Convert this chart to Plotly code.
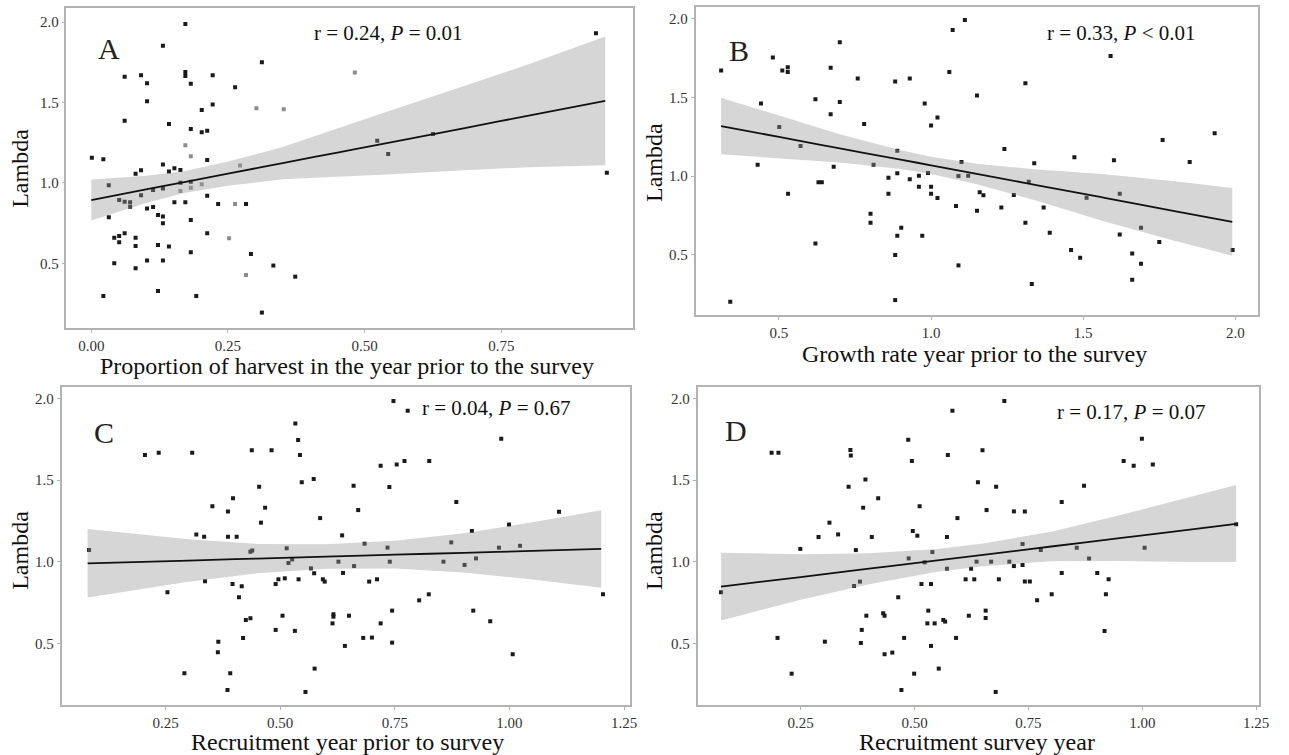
import plotly.graph_objects as go

W, H = 1289, 755
FONT = "Liberation Serif, Times New Roman, serif"

# ---------------- Panel A data ----------------
a_x = [0.172,0.131,0.312,0.061,0.091,0.172,0.172,0.222,0.102,0.182,0.263,0.102,0.222,0.202,
       0.061,0.142,0.182,0.202,0.212,0.001,0.022,0.212,0.131,0.081,0.091,0.142,0.152,0.163,
       0.163,0.182,0.032,0.113,0.131,0.091,0.212,0.051,0.061,0.071,0.071,0.152,0.172,0.232,
       0.283,0.102,0.113,0.032,0.122,0.131,0.131,0.182,0.042,0.051,0.061,0.051,0.081,0.081,
       0.122,0.142,0.212,0.182,0.292,0.042,0.102,0.131,0.081,0.333,0.373,0.022,0.122,0.192,
       0.312,0.923,0.523,0.543,0.625,0.943]
a_y = [1.988,1.853,1.750,1.660,1.669,1.690,1.665,1.669,1.620,1.617,1.594,1.507,1.487,1.453,
       1.387,1.366,1.335,1.315,1.325,1.157,1.147,1.143,1.114,1.058,1.079,1.072,1.091,1.081,
       1.002,1.008,0.986,0.957,0.965,0.923,0.921,0.894,0.884,0.880,0.853,0.880,0.880,0.870,
       0.870,0.841,0.851,0.787,0.801,0.791,0.749,0.770,0.660,0.671,0.687,0.631,0.660,0.609,
       0.615,0.605,0.687,0.569,0.559,0.501,0.518,0.518,0.470,0.487,0.418,0.298,0.329,0.298,
       0.195,1.930,1.263,1.180,1.304,1.064]
a_grey_x = [0.482,0.302,0.352,0.172,0.182,0.272,0.163,0.182,0.202,0.263,0.252,0.283]
a_grey_y = [1.687,1.464,1.458,1.234,1.166,1.108,0.950,0.971,0.992,0.870,0.656,0.429]
a_fit_x = [0.0,0.1,0.17,0.25,0.35,0.45,0.55,0.69,0.8,0.94]
a_fit_y = [0.894,0.960,1.005,1.058,1.123,1.189,1.254,1.346,1.418,1.510]
a_ci_lo = [0.767,0.875,0.937,0.983,1.023,1.039,1.054,1.081,1.098,1.110]
a_ci_hi = [1.021,1.045,1.073,1.133,1.223,1.339,1.454,1.611,1.738,1.910]

# ---------------- Panel B data ----------------
b_x = [1.111,1.071,0.700,0.480,0.310,0.511,0.529,0.529,0.670,1.060,0.759,0.882,0.930,1.151,
       0.441,0.620,0.700,0.979,0.670,1.021,1.000,0.501,0.780,0.571,0.889,0.430,0.680,0.811,
       1.100,0.889,0.860,0.930,0.960,0.990,1.090,1.122,0.630,0.641,0.860,0.960,1.000,1.000,
       1.021,1.160,1.172,0.530,1.082,1.151,0.801,0.801,0.902,0.889,0.971,0.620,0.882,1.090,
       0.882,0.340,
       1.590,1.310,1.241,1.339,1.471,1.601,1.761,1.850,1.932,1.321,1.272,1.231,1.370,1.511,
       1.620,1.310,1.390,1.620,1.690,1.750,1.460,1.490,1.661,1.690,1.661,1.331,1.991]
b_y = [1.994,1.930,1.851,1.754,1.671,1.671,1.692,1.662,1.690,1.662,1.620,1.601,1.620,1.512,
       1.461,1.488,1.471,1.461,1.393,1.372,1.321,1.312,1.331,1.191,1.161,1.072,1.059,1.072,
       1.089,1.017,0.989,0.979,1.002,1.019,1.000,1.002,0.960,0.960,0.887,0.932,0.932,0.887,
       0.860,0.896,0.877,0.887,0.809,0.779,0.760,0.703,0.671,0.620,0.620,0.571,0.497,0.431,
       0.210,0.200,
       1.764,1.590,1.172,1.081,1.119,1.100,1.229,1.089,1.272,0.964,0.879,0.800,0.800,0.862,
       0.887,0.703,0.639,0.628,0.671,0.580,0.529,0.480,0.507,0.442,0.340,0.312,0.529]
b_fit_x = [0.31,0.5,0.7,0.9,1.0,1.15,1.35,1.57,1.8,1.99]
b_fit_y = [1.318,1.249,1.176,1.104,1.068,1.013,0.941,0.861,0.777,0.708]
b_ci_lo = [1.138,1.114,1.086,1.044,1.013,0.948,0.841,0.711,0.587,0.493]
b_ci_hi = [1.498,1.384,1.266,1.164,1.123,1.078,1.041,1.011,0.967,0.923]

# ---------------- Panel C data ----------------
c_x = [0.083,0.205,0.235,0.308,0.438,0.481,0.533,0.539,0.543,0.547,0.573,0.660,0.454,0.670,
       0.397,0.467,0.352,0.386,0.458,0.587,0.317,0.334,0.386,0.405,0.635,0.684,0.435,0.439,
       0.514,0.518,0.526,0.627,0.661,0.567,0.574,0.637,0.336,0.396,0.416,0.410,0.254,0.490,
       0.496,0.510,0.540,0.593,0.597,0.425,0.435,0.505,0.616,0.616,0.650,0.614,0.490,0.532,
       0.419,0.681,0.641,0.365,0.364,0.291,0.391,0.575,0.385,0.555,
       0.747,0.778,0.982,0.719,0.754,0.771,0.825,0.738,0.884,1.108,0.918,0.999,0.734,0.873,
       0.977,1.023,0.739,0.856,0.902,0.927,0.694,0.711,1.204,0.824,0.803,0.744,0.921,0.719,
       0.958,0.700,0.744,1.007]
c_y = [1.071,1.653,1.667,1.667,1.682,1.682,1.847,1.745,1.653,1.486,1.506,1.465,1.459,1.316,
       1.388,1.331,1.339,1.308,1.239,1.267,1.167,1.153,1.153,1.153,1.161,1.110,1.061,1.069,
       1.082,0.992,1.014,1.000,0.973,0.959,0.929,0.931,0.880,0.863,0.849,0.782,0.812,0.863,
       0.892,0.898,0.892,0.892,0.878,0.643,0.653,0.669,0.678,0.663,0.669,0.622,0.582,0.576,
       0.533,0.533,0.484,0.510,0.445,0.316,0.316,0.345,0.214,0.202,
       1.984,1.924,1.753,1.588,1.596,1.616,1.616,1.457,1.365,1.306,1.188,1.227,1.086,1.118,
       1.086,1.098,1.000,1.000,0.980,1.020,0.878,0.892,0.800,0.800,0.763,0.700,0.700,0.622,
       0.635,0.535,0.504,0.433]
c_fit_x = [0.08,0.3,0.45,0.6,0.75,0.9,1.05,1.2]
c_fit_y = [0.990,1.007,1.019,1.031,1.043,1.054,1.066,1.078]
c_ci_lo = [0.780,0.877,0.929,0.956,0.958,0.934,0.891,0.841]
c_ci_hi = [1.200,1.137,1.109,1.106,1.128,1.174,1.241,1.315]

# ---------------- Panel D data ----------------
d_x = [0.583,0.486,0.186,0.201,0.359,0.360,0.494,0.573,0.649,0.392,0.355,0.639,0.420,0.387,
       0.511,0.658,0.594,0.313,0.289,0.332,0.406,0.496,0.506,0.571,0.249,0.371,0.539,0.487,
       0.522,0.636,0.668,0.571,0.624,0.612,0.631,0.367,0.380,0.515,0.536,0.075,0.464,0.394,
       0.431,0.434,0.530,0.528,0.544,0.563,0.567,0.619,0.656,0.656,0.384,0.199,0.303,0.382,
       0.477,0.591,0.536,0.434,0.451,0.230,0.499,0.553,0.471,
       0.697,0.999,0.959,0.981,1.023,0.679,0.872,0.718,0.742,0.823,0.737,0.777,0.856,1.005,
       0.883,0.708,0.718,0.737,0.685,0.742,0.753,0.823,0.901,0.926,0.769,0.801,0.920,0.917,
       0.678,1.206]
d_y = [1.924,1.747,1.667,1.667,1.684,1.651,1.616,1.653,1.682,1.504,1.459,1.486,1.388,1.331,
       1.339,1.316,1.267,1.239,1.151,1.167,1.151,1.188,1.159,1.151,1.078,1.071,1.059,1.020,
       0.996,1.000,1.000,0.957,0.957,0.892,0.892,0.851,0.878,0.863,0.863,0.812,0.782,0.669,
       0.684,0.669,0.700,0.622,0.622,0.643,0.633,0.669,0.700,0.655,0.582,0.533,0.510,0.502,
       0.533,0.533,0.484,0.433,0.443,0.314,0.314,0.345,0.214,
       1.984,1.753,1.616,1.588,1.596,1.459,1.465,1.308,1.308,1.365,1.108,1.071,1.086,1.086,
       1.020,1.000,0.973,0.980,0.892,0.878,0.878,0.931,0.931,0.892,0.763,0.800,0.800,0.576,
       0.202,1.230]
d_fit_x = [0.075,0.25,0.4,0.55,0.65,0.8,0.95,1.1,1.206]
d_fit_y = [0.847,0.906,0.957,1.008,1.042,1.093,1.144,1.195,1.231]
d_ci_lo = [0.640,0.766,0.862,0.938,0.972,1.003,1.004,0.998,0.998]
d_ci_hi = [1.054,1.046,1.052,1.078,1.112,1.183,1.284,1.395,1.470]

# Text
a_stat = "r = 0.24, <i>P</i> = 0.01"
b_stat = "r = 0.33, <i>P</i> < 0.01"
c_stat = "r = 0.04, <i>P</i> = 0.67"
d_stat = "r = 0.17, <i>P</i> = 0.07"
a_xtitle = "Proportion of harvest in the year prior to the survey"
b_xtitle = "Growth rate year prior to the survey"
c_xtitle = "Recruitment year prior to survey"
d_xtitle = "Recruitment survey year"
y_title = "Lambda"

a_xticks = [0.0, 0.25, 0.5, 0.75]
a_xticklabels = ["0.00", "0.25", "0.50", "0.75"]
b_xticks = [0.5, 1.0, 1.5, 2.0]
b_xticklabels = ["0.5", "1.0", "1.5", "2.0"]
cd_xticks = [0.25, 0.5, 0.75, 1.0, 1.25]
cd_xticklabels = ["0.25", "0.50", "0.75", "1.00", "1.25"]
y_ticks = [0.5, 1.0, 1.5, 2.0]
y_ticklabels = ["0.5", "1.0", "1.5", "2.0"]

# Layout geometry (pixels): frame left, right, top, bottom, x range, y range
panels = [
    dict(px=(67, 638, 8, 328), xr=[-0.0454, 0.9909], yr=[0.099, 2.087],
         x=a_x, y=a_y, gx=a_grey_x, gy=a_grey_y, fx=a_fit_x, fy=a_fit_y, lo=a_ci_lo, hi=a_ci_hi,
         xt=a_xticks, xtl=a_xticklabels, stat=a_stat, statpos=(392, 33), lab="A", labpos=(110, 48),
         xtitle=a_xtitle, xtpos=(350, 366), ytpos=(20, 168)),
    dict(px=(701, 1268, 7, 315), xr=[0.226, 2.075], yr=[0.115, 2.076],
         x=b_x, y=b_y, gx=[], gy=[], fx=b_fit_x, fy=b_fit_y, lo=b_ci_lo, hi=b_ci_hi,
         xt=b_xticks, xtl=b_xticklabels, stat=b_stat, statpos=(1130, 33), lab="B", labpos=(745, 50),
         xtitle=b_xtitle, xtpos=(982, 354), ytpos=(659, 162)),
    dict(px=(62, 635, 387, 705), xr=[0.023, 1.263], yr=[0.122, 2.07],
         x=c_x, y=c_y, gx=[], gy=[], fx=c_fit_x, fy=c_fit_y, lo=c_ci_lo, hi=c_ci_hi,
         xt=cd_xticks, xtl=cd_xticklabels, stat=c_stat, statpos=(500, 408), lab="C", labpos=(105, 432),
         xtitle=c_xtitle, xtpos=(350, 742), ytpos=(20, 550)),
    dict(px=(703, 1269, 387, 705), xr=[0.0234, 1.2565], yr=[0.122, 2.07],
         x=d_x, y=d_y, gx=[], gy=[], fx=d_fit_x, fy=d_fit_y, lo=d_ci_lo, hi=d_ci_hi,
         xt=cd_xticks, xtl=cd_xticklabels, stat=d_stat, statpos=(1140, 412), lab="D", labpos=(742, 430),
         xtitle=d_xtitle, xtpos=(985, 742), ytpos=(659, 550)),
]

fig = go.Figure()
annotations = []
layout = dict(
    width=W, height=H, margin=dict(l=0, r=0, t=0, b=0),
    paper_bgcolor="white", plot_bgcolor="white", showlegend=False,
    font=dict(family=FONT, color="#222"),
)


def note(text, pos, size, color, angle=0):
    return dict(text=text, x=pos[0] / W, y=1 - pos[1] / H, xref="paper", yref="paper",
                xanchor="center", yanchor="middle", showarrow=False, textangle=angle,
                font=dict(family=FONT, size=size, color=color))


for i, p in enumerate(panels, start=1):
    xa = "x" if i == 1 else f"x{i}"
    ya = "y" if i == 1 else f"y{i}"
    l, r, t, b = p["px"]
    common = dict(showline=True, linecolor="#b3b3b3", linewidth=1.5, mirror=True,
                  showgrid=False, zeroline=False, ticks="outside", ticklen=3,
                  tickcolor="#b3b3b3", tickfont=dict(family=FONT, size=15, color="#333"))
    layout["xaxis" if i == 1 else f"xaxis{i}"] = dict(
        domain=[l / W, r / W], range=p["xr"], anchor=ya,
        tickvals=p["xt"], ticktext=p["xtl"], **common)
    layout["yaxis" if i == 1 else f"yaxis{i}"] = dict(
        domain=[1 - b / H, 1 - t / H], range=p["yr"], anchor=xa,
        tickvals=y_ticks, ticktext=y_ticklabels, **common)

    fig.add_trace(go.Scatter(x=p["x"], y=p["y"], mode="markers", xaxis=xa, yaxis=ya,
                             marker=dict(symbol="square", size=4, color="#1a1a1a")))
    if p["gx"]:
        fig.add_trace(go.Scatter(x=p["gx"], y=p["gy"], mode="markers", xaxis=xa, yaxis=ya,
                                 marker=dict(symbol="square", size=4, color="#8c8c8c")))
    fig.add_trace(go.Scatter(x=p["fx"] + p["fx"][::-1], y=p["hi"] + p["lo"][::-1],
                             mode="lines", fill="toself", fillcolor="rgba(153,153,153,0.4)",
                             line=dict(width=0), xaxis=xa, yaxis=ya, hoverinfo="skip"))
    fig.add_trace(go.Scatter(x=p["fx"], y=p["fy"], mode="lines", xaxis=xa, yaxis=ya,
                             line=dict(color="#111", width=1.8), line_shape="spline"))

    annotations.append(note(p["stat"], p["statpos"], 21, "#111"))
    annotations.append(note(p["lab"], p["labpos"], 30, "#222"))
    annotations.append(note(p["xtitle"], p["xtpos"], 24, "#111"))
    annotations.append(note(y_title, p["ytpos"], 24, "#111", angle=-90))

layout["annotations"] = annotations
fig.update_layout(**layout)
fig.write_html("out.html")
